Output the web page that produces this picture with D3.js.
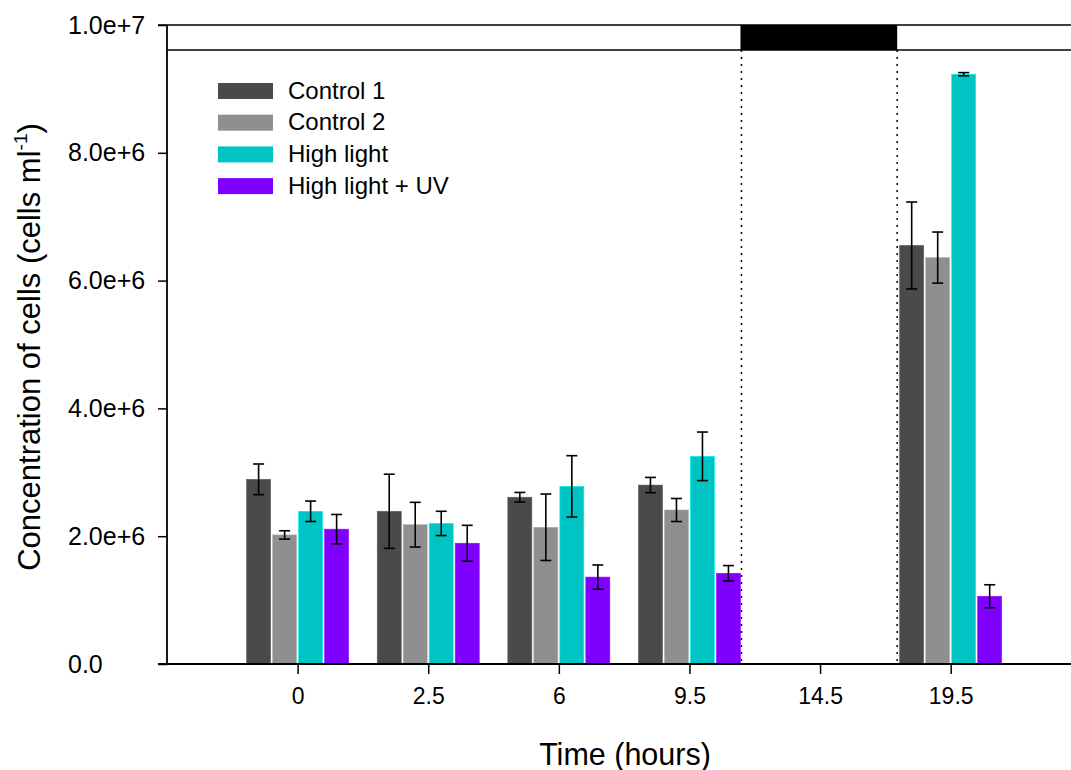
<!DOCTYPE html>
<html><head><meta charset="utf-8">
<script src="https://d3js.org/d3.v7.min.js"></script>
<style>body{margin:0;background:#fff}svg{display:block}text{font-family:"Liberation Sans",Arial,sans-serif;fill:#000}</style>
</head><body><div id="chart"></div>
<script>
const categories = ["0","2.5","6","9.5","14.5","19.5"];
const seriesNames = ["Control 1","Control 2","High light","High light + UV"];
const seriesColors = ["#4a4a4a","#8f8f8f","#00c4c4","#8000ff"];
// values in cells/ml, null = no data
const control1  = [2.89e6, 2.39e6, 2.61e6, 2.80e6, null, 6.55e6];
const control2  = [2.02e6, 2.18e6, 2.14e6, 2.41e6, null, 6.36e6];
const highLight = [2.39e6, 2.20e6, 2.78e6, 3.25e6, null, 9.23e6];
const highLightUV=[2.11e6, 1.89e6, 1.36e6, 1.42e6, null, 1.06e6];
const err1 = [0.24e6, 0.58e6, 0.075e6, 0.12e6, null, 0.68e6];
const err2 = [0.065e6, 0.35e6, 0.52e6, 0.18e6, null, 0.40e6];
const err3 = [0.16e6, 0.19e6, 0.48e6, 0.38e6, null, 0.025e6];
const err4 = [0.23e6, 0.28e6, 0.19e6, 0.12e6, null, 0.18e6];
const yTicks = [0, 2e6, 4e6, 6e6, 8e6, 1e7];
const yTickLabels = ["0.0","2.0e+6","4.0e+6","6.0e+6","8.0e+6","1.0e+7"];
const darkPeriod = ["9.5","19.5"]; // dark phase between these time points

const W = 1071, H = 770;
const svg = d3.select("#chart").append("svg").attr("width", W).attr("height", H);

const x0 = 167, yBottom = 664, yTop = 25;
const x = d3.scalePoint().domain(categories).range([x0, 1081.3]).padding(1);
const y = d3.scaleLinear().domain([0, 1e7]).range([yBottom, yTop]);
const barW = 24, slot = 26;
const xs = d3.scaleBand().domain(d3.range(4)).range([-2*slot, 2*slot]);

const series = [control1, control2, highLight, highLightUV];
const errs = [err1, err2, err3, err4];

// top band
const bandBottom = 50;
const xd0 = x(darkPeriod[0]) + 2*slot - 1, xd1 = x(darkPeriod[1]) - 2*slot - 1.5;
svg.append("rect").attr("x", xd0).attr("y", yTop).attr("width", xd1 - xd0).attr("height", bandBottom - yTop).attr("fill", "#000");
svg.append("line").attr("x1", x0 - 9).attr("x2", W).attr("y1", yTop).attr("y2", yTop).attr("stroke", "#000").attr("stroke-width", 1.5);
svg.append("line").attr("x1", x0).attr("x2", W).attr("y1", bandBottom).attr("y2", bandBottom).attr("stroke", "#000").attr("stroke-width", 1.5);
[xd0 + 1, xd1].forEach(xx => {
  svg.append("line").attr("x1", xx).attr("x2", xx).attr("y1", bandBottom).attr("y2", yBottom)
    .attr("stroke", "#000").attr("stroke-width", 1.5).attr("stroke-dasharray", "2,5");
});

// bars
series.forEach((vals, si) => {
  const g = svg.append("g");
  categories.forEach((c, ci) => {
    const v = vals[ci];
    if (v == null) return;
    const bx = x(c) + xs(si) + 1;
    g.append("rect").attr("x", bx).attr("y", y(v)).attr("width", barW).attr("height", y(0) - y(v))
      .attr("fill", seriesColors[si]).attr("stroke", d3.color(seriesColors[si]).brighter(0.6)).attr("stroke-width", 0.6);
    const e = errs[si][ci];
    const cx = bx + barW / 2;
    const eg = svg.append("g").attr("stroke", "#000").attr("stroke-width", 1.6);
    eg.append("line").attr("x1", cx).attr("x2", cx).attr("y1", y(v + e)).attr("y2", y(v - e));
    eg.append("line").attr("x1", cx - 5.5).attr("x2", cx + 5.5).attr("y1", y(v + e)).attr("y2", y(v + e));
    eg.append("line").attr("x1", cx - 5.5).attr("x2", cx + 5.5).attr("y1", y(v - e)).attr("y2", y(v - e));
  });
});

// y axis (labels left-aligned)
const yAxis = d3.axisLeft(y).tickValues(yTicks).tickFormat((d, i) => yTickLabels[i]).tickSize(9).tickPadding(12);
const ya = svg.append("g").attr("transform", `translate(${x0},0)`).call(yAxis);
ya.select(".domain").remove();
ya.selectAll("line").attr("stroke-width", 1.5);
ya.selectAll("text").style("font-size", "25px").attr("font-family", "Liberation Sans, Arial")
  .attr("text-anchor", "start").attr("x", 68 - x0);
svg.append("line").attr("x1", x0).attr("x2", x0).attr("y1", yTop).attr("y2", yBottom).attr("stroke", "#000").attr("stroke-width", 1.8);

// x axis
const xAxis = d3.axisBottom(x).tickSize(10).tickPadding(14);
const xa = svg.append("g").attr("transform", `translate(0,${yBottom})`).call(xAxis);
xa.select(".domain").remove();
xa.selectAll("line").attr("stroke-width", 1.5);
xa.selectAll("text").style("font-size", "23px").attr("font-family", "Liberation Sans, Arial");
svg.append("line").attr("x1", x0 - 9).attr("x2", W).attr("y1", yBottom).attr("y2", yBottom).attr("stroke", "#000").attr("stroke-width", 2);

// titles
svg.append("text").attr("x", 625).attr("y", 765).attr("text-anchor", "middle").style("font-size", "30.5px").text("Time (hours)");
const yt = svg.append("text").attr("transform", "translate(40,347) rotate(-90)").attr("text-anchor", "middle").style("font-size", "31px");
yt.append("tspan").text("Concentration of cells (cells ml");
yt.append("tspan").attr("dy", -13).style("font-size", "19px").text("-1");
yt.append("tspan").attr("dy", 13).text(")");

// legend
const lg = svg.append("g");
seriesNames.forEach((n, i) => {
  const ly = 91 + i * 31.7;
  lg.append("rect").attr("x", 218).attr("y", ly - 8).attr("width", 55).attr("height", 16).attr("fill", seriesColors[i]);
  lg.append("text").attr("x", 288).attr("y", ly + 7.5).style("font-size", "24px").text(n);
});
</script></body></html>
